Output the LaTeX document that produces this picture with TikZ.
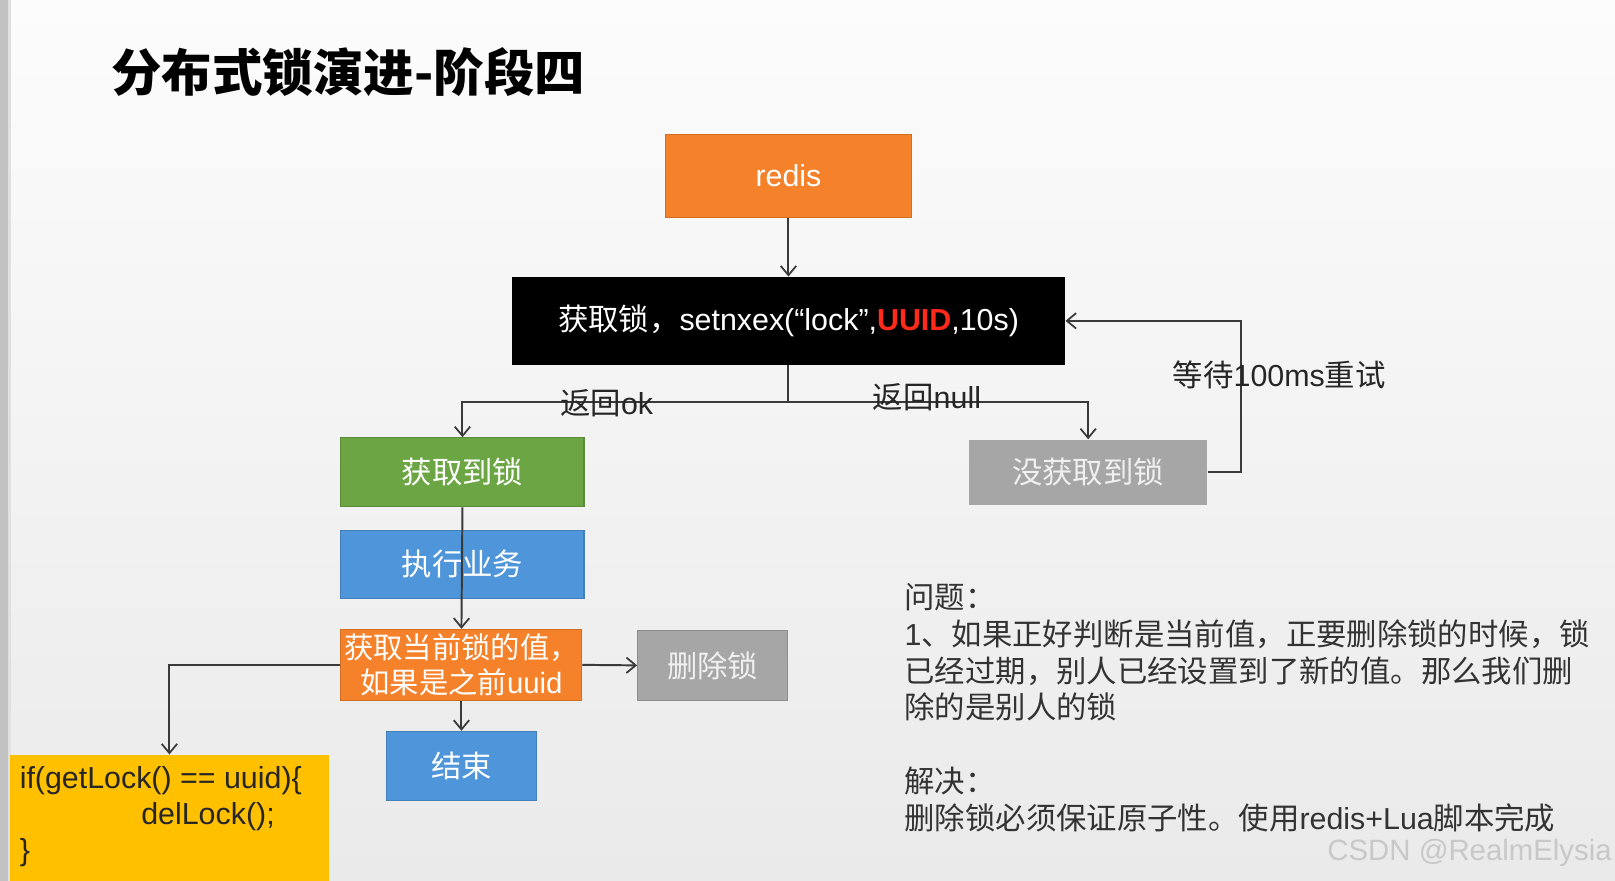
\documentclass[tikz,border=0pt]{standalone}
\usepackage{fontspec}
\setmainfont{Noto Sans CJK SC}
\newfontfamily\latf{Liberation Sans}
\usetikzlibrary{arrows.meta}
\definecolor{bgtop}{HTML}{FCFCFC}
\definecolor{bgbot}{HTML}{EAEAEA}
\definecolor{stripc}{HTML}{C2C2C2}
\definecolor{redisc}{HTML}{F5822A}
\definecolor{greenc}{HTML}{6CA544}
\definecolor{bluec}{HTML}{4F95DA}
\definecolor{grayc}{HTML}{A6A6A6}
\definecolor{yellowc}{HTML}{FFC000}
\definecolor{linec}{HTML}{3A3A3A}
\definecolor{uuidred}{HTML}{FF2A1A}
\definecolor{txtc}{HTML}{333333}
\definecolor{wmc}{HTML}{C8C8C8}
\newcommand\bxf{\fontsize{29.5}{35}\selectfont}
\begin{document}
\begin{tikzpicture}[x=1pt,y=-1pt,
  box/.style={rectangle, inner sep=0pt, text=white, font=\bxf, line width=1pt},
  conn/.style={draw=linec, line width=1.9pt},
  arr/.style={conn, -{Straight Barb[length=9pt,width=15pt,line width=1.7pt]}},
  lbl/.style={text=black!85, font=\bxf, inner sep=0pt}
]
% background
\useasboundingbox (0,0) rectangle (1568,855);
\shade[top color=bgtop, bottom color=bgbot] (0,0) rectangle (1568,855);
\fill[stripc] (0,0) rectangle (8,855);
\fill[stripc!50!white] (8,0) rectangle (11,855);

% title
\node[anchor=west, inner sep=0pt, font=\fontsize{49}{52}\selectfont\bfseries] (title) at (108,70) {分布式锁演进-阶段四};

% boxes
\node[box, fill=redisc, draw=redisc!85!black, minimum width=239pt, minimum height=80pt] (redis) at (765.5,171) {\latf redis};
\node[box, fill=black, minimum width=537pt, minimum height=85pt] (lock) at (765.5,311.5)
  {获取锁，{\latf setnxex(“lock”,\textcolor{uuidred}{\bfseries UUID},10s)}};
\node[box, fill=greenc, draw=greenc!85!black, minimum width=236pt, minimum height=67pt] (got) at (449,458.5) {获取到锁};
\node[box, fill=bluec, draw=bluec!85!black, minimum width=236pt, minimum height=66pt] (biz) at (449,548) {执行业务};
\node[box, fill=redisc, draw=redisc!85!black, minimum width=234pt, minimum height=69pt, align=center,
  font=\fontsize{28.5}{34}\selectfont] (cur) at (448,645.5) {获取当前锁的值，\\如果是之前{\latf uuid}};
\node[box, fill=grayc, draw=grayc!85!black, minimum width=146pt, minimum height=68pt, text=white!94!black] (del) at (692,646) {删除锁};
\node[box, fill=bluec, draw=bluec!85!black, minimum width=146pt, minimum height=67pt] (end) at (448,743.5) {结束};
\node[box, fill=grayc, minimum width=231pt, minimum height=63pt, text=white!94!black] (nolock) at (1056.5,458.5) {没获取到锁};
\node[box, fill=yellowc, minimum width=309pt, minimum height=122pt] (code) at (164.5,794) {};
\node[anchor=west, inner sep=0pt, align=left, text=black!85, font=\latf\fontsize{29.5}{35}\selectfont] (codetext) at (19,793)
  {if(getLock() == uuid)\{\\\hspace*{118pt}delLock();\\\}};

% connectors
\draw[arr] (redis.south) -- (lock.north);
\coordinate (split) at (765.5,390);
\draw[conn] (lock.south) -- (split);
\draw[arr] (split) -| (got.north);
\draw[arr] (split) -| (nolock.north);
\node[lbl] (okl) at (589,391) {返回{\latf ok}};
\node[lbl] (nulll) at (900,386) {返回{\latf null}};
\draw[arr] (got.south) -- (cur.north);
\draw[arr] (cur.east) -- (del.west);
\draw[arr] (cur.south) -- (end.north);
\draw[arr] (cur.west) -| (code.north);
\draw[arr] (nolock.east) -- ++(32,0) |- (lock.east);
\node[lbl] (waitl) at (1242,364) {等待{\latf 100ms}重试};

% notes
\node[anchor=west, inner sep=0pt, align=left, text=txtc, font=\fontsize{29.5}{35.7}\selectfont] (notes) at (878,687)
  {问题：\\
   {\latf 1}、如果正好判断是当前值，正要删除锁的时候，锁\\
   已经过期，别人已经设置到了新的值。那么我们删\\
   除的是别人的锁\\
   \mbox{}\\
   解决：\\
   删除锁必须保证原子性。使用{\latf redis+Lua}脚本完成};

% watermark
\node[anchor=east, inner sep=0pt, text=wmc, font=\latf\fontsize{28.5}{32}\selectfont] (wm) at (1565,828) {CSDN @RealmElysia};
\end{tikzpicture}
\end{document}
